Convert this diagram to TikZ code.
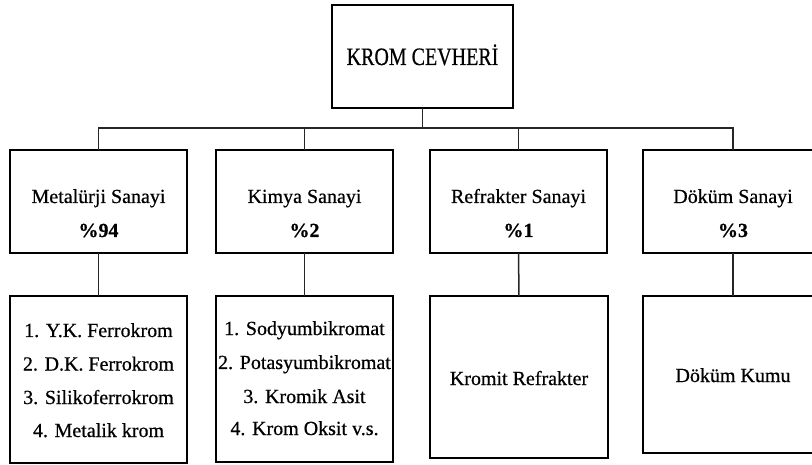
\documentclass[tikz,border=0pt]{standalone}
\usepackage{fontspec}
\setmainfont{Liberation Serif}[FakeBold=0.6]
\usepackage{graphicx}
\begin{document}
\begin{tikzpicture}[x=1pt,y=-1pt,
  box/.style={draw=black, line width=2.3pt, rectangle, inner sep=0pt, outer sep=0pt, anchor=north west},
  topbox/.style={box, line width=2.8pt, minimum width=181pt, minimum height=103pt},
  catbox/.style={box, minimum width=177pt, minimum height=103pt},
  conn/.style={draw=black!85, line width=1.5pt},
  txt/.style={anchor=base, inner sep=0pt, font=\fontsize{20}{24}\selectfont},
  pct/.style={txt, font=\fontsize{20}{24}\selectfont\bfseries}]
\useasboundingbox (0,0) rectangle (812,465);
\begin{scope}
\clip (0,0) rectangle (812,465);
% top
\node[topbox] (top) at (332,5) {};
\node[txt] (toptxt) at (422.5,65) {\scalebox{1}[1.25]{KROM CEVHERİ}};
\coordinate (bar) at (0,128);
% level 2
\node[catbox] (a) at (10,150) {};
\node[catbox] (b) at (216,150) {};
\node[catbox] (c) at (430,150) {};
\node[catbox, minimum width=180pt] (d) at (643,150) {};
\node[txt] (a1) at (a.north |- 0,203) {Metalürji Sanayi};
\node[pct] (a2) at (a.north |- 0,237) {\%94};
\node[txt] (b1) at (b.north |- 0,203) {Kimya Sanayi};
\node[pct] (b2) at (b.north |- 0,237) {\%2};
\node[txt] (c1) at (c.north |- 0,203) {Refrakter Sanayi};
\node[pct] (c2) at (c.north |- 0,237) {\%1};
\node[txt] (d1) at (d.north |- 0,203) {Döküm Sanayi};
\node[pct] (d2) at (d.north |- 0,237) {\%3};
% level 3
\node[box, minimum width=177pt, minimum height=167pt] (as) at (10,296) {};
\node[box, minimum width=177pt, minimum height=166pt] (bs) at (216,296) {};
\node[box, minimum width=178pt, minimum height=162pt] (cs) at (430,296) {};
\node[box, minimum width=180pt, minimum height=157pt] (ds) at (643,296) {};
\node[txt] (as1) at (as.north |- 0,337) {1. Y.K. Ferrokrom};
\node[txt] (as2) at (as.north |- 0,370.5) {2. D.K. Ferrokrom};
\node[txt] (as3) at (as.north |- 0,404) {3. Silikoferrokrom};
\node[txt] (as4) at (as.north |- 0,437) {4. Metalik krom};
\node[txt] (bs1) at (bs.north |- 0,335) {1. Sodyumbikromat};
\node[txt] (bs2) at (bs.north |- 0,369) {2. Potasyumbikromat};
\node[txt] (bs3) at (bs.north |- 0,403) {3. Kromik Asit};
\node[txt] (bs4) at (bs.north |- 0,435) {4. Krom Oksit v.s.};
\node[txt] (cs1) at (cs.north |- 0,385) {Kromit Refrakter};
\node[txt] (ds1) at (ds.north |- 0,382) {Döküm Kumu};
% connectors
\draw[conn] (top.south) -- (top.south |- bar);
\draw[conn] (a.north) -- (a.north |- bar) -- (d.north |- bar) -- (d.north);
\draw[conn] (b.north |- bar) -- (b.north);
\draw[conn] (c.north |- bar) -- (c.north);
\draw[conn] (a.south) -- (as.north);
\draw[conn] (b.south) -- (bs.north);
\draw[conn] (c.south) -- (cs.north);
\draw[conn] (d.south) -- (ds.north);
\end{scope}
\end{tikzpicture}
\end{document}
